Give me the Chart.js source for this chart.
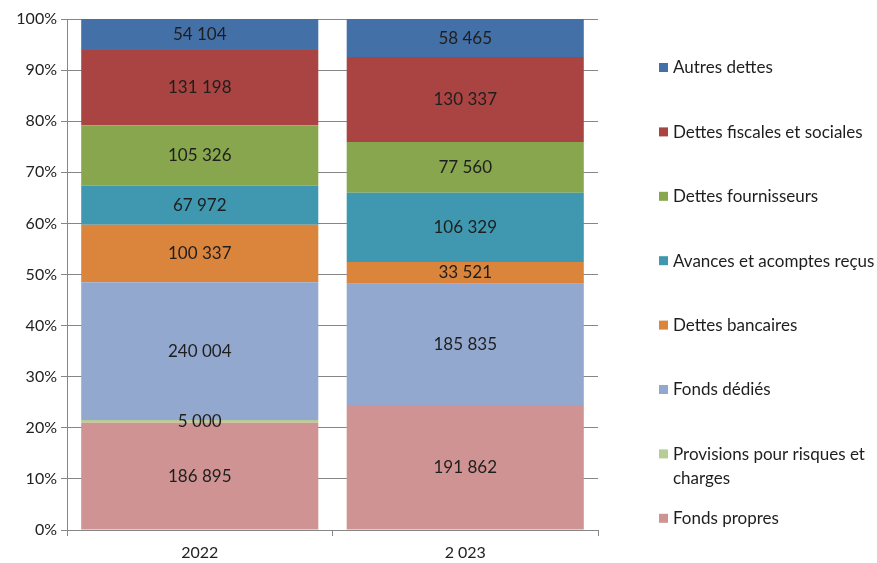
<!DOCTYPE html>
<html>
<head>
<meta charset="utf-8">
<script src="https://cdn.jsdelivr.net/npm/chart.js@4"></script>
<style>
  html, body { margin: 0; padding: 0; background: #fff; }
  #wrap { width: 877px; height: 563px; position: relative; }
</style>
</head>
<body>
<div id="wrap"><canvas id="bilanChart" width="877" height="563"></canvas></div>
<script>
// categories and series (bottom to top of each bar)
const years = ['2022', '2 023'];
const fondsPropres = [186895, 191862];
const provisions = [5000, null];
const fondsDedies = [240004, 185835];
const dettesBancaires = [100337, 33521];
const avances = [67972, 106329];
const dettesFournisseurs = [105326, 77560];
const dettesFiscales = [131198, 130337];
const autresDettes = [54104, 58465];
const yTicks = [0, 10, 20, 30, 40, 50, 60, 70, 80, 90, 100];

const series = [
    { label: 'Fonds propres', values: fondsPropres, color: '#D09393' },
    { label: ['Provisions pour risques et', 'charges'], values: provisions, color: '#B8CD95' },
    { label: 'Fonds dédiés', values: fondsDedies, color: '#93A8CF' },
    { label: 'Dettes bancaires', values: dettesBancaires, color: '#DA843C' },
    { label: 'Avances et acomptes reçus', values: avances, color: '#3F98AF' },
    { label: 'Dettes fournisseurs', values: dettesFournisseurs, color: '#87A64D' },
    { label: 'Dettes fiscales et sociales', values: dettesFiscales, color: '#A94442' },
    { label: 'Autres dettes', values: autresDettes, color: '#4470A8' }
];

const FONT = 'Lato, "Open Sans", sans-serif';

// totals per year for the 100% stacking
const totals = years.map(function(_, i) {
    return series.reduce(function(s, d) { return s + (d.values[i] || 0); }, 0);
});

function fmt(v) {
    return String(v).replace(/\B(?=(\d{3})+(?!\d))/g, ' ');
}

// value labels inside the segments
const valueLabels = {
    id: 'valueLabels',
    afterDatasetsDraw(chart) {
        const ctx = chart.ctx;
        ctx.save();
        ctx.font = '17px ' + FONT;
        ctx.fillStyle = '#1e1e1e';
        ctx.textAlign = 'center';
        ctx.textBaseline = 'middle';
        chart.data.datasets.forEach(function(ds, di) {
            chart.getDatasetMeta(di).data.forEach(function(bar, i) {
                const raw = ds.rawValues[i];
                if (!raw) return;
                ctx.fillText(fmt(raw), bar.x, (bar.y + bar.base) / 2);
            });
        });
        ctx.restore();
    }
};

// legend on the right, top entry = last series
const sideLegend = {
    id: 'sideLegend',
    afterDraw(chart) {
        const ctx = chart.ctx;
        ctx.save();
        ctx.font = '17px ' + FONT;
        ctx.textBaseline = 'middle';
        const items = chart.data.datasets.slice().reverse();
        items.forEach(function(ds, k) {
            const y = 68 + k * 64.4;
            ctx.fillStyle = ds.backgroundColor;
            ctx.fillRect(659, y - 5, 9, 9);
            ctx.fillStyle = '#1e1e1e';
            const lines = Array.isArray(ds.label) ? ds.label : [ds.label];
            lines.forEach(function(t, j) {
                ctx.fillText(t, 673, y + j * 24);
            });
        });
        ctx.restore();
    }
};

new Chart(document.getElementById('bilanChart').getContext('2d'), {
    type: 'bar',
    data: {
        labels: years,
        datasets: series.map(function(s) {
            return {
                label: s.label,
                rawValues: s.values,
                data: s.values.map(function(v, i) { return v === null ? null : v / totals[i] * 100; }),
                backgroundColor: s.color,
                borderWidth: 0,
                barPercentage: 0.893,
                categoryPercentage: 1
            };
        })
    },
    options: {
        responsive: false,
        animation: false,
        layout: { padding: { top: 19, right: 279, left: 0, bottom: 0 } },
        plugins: {
            legend: { display: false },
            tooltip: { enabled: false }
        },
        scales: {
            x: {
                stacked: true,
                afterFit: function(scale) { scale.height = 33; },
                grid: {
                    offset: true,
                    drawOnChartArea: false,
                    color: '#868686',
                    tickLength: 6
                },
                border: { color: '#868686' },
                ticks: { color: '#222', font: { family: FONT, size: 16 }, padding: 7 }
            },
            y: {
                stacked: true,
                min: 0,
                max: 100,
                afterFit: function(scale) { scale.width = 67; },
                afterBuildTicks: function(scale) {
                    scale.ticks = yTicks.map(function(v) { return { value: v }; });
                },
                grid: { color: '#868686', tickLength: 6 },
                border: { color: '#868686' },
                ticks: {
                    color: '#222',
                    font: { family: FONT, size: 16 },
                    padding: 4,
                    callback: function(v) { return v + '%'; }
                }
            }
        }
    },
    plugins: [valueLabels, sideLegend]
});
</script>
</body>
</html>
